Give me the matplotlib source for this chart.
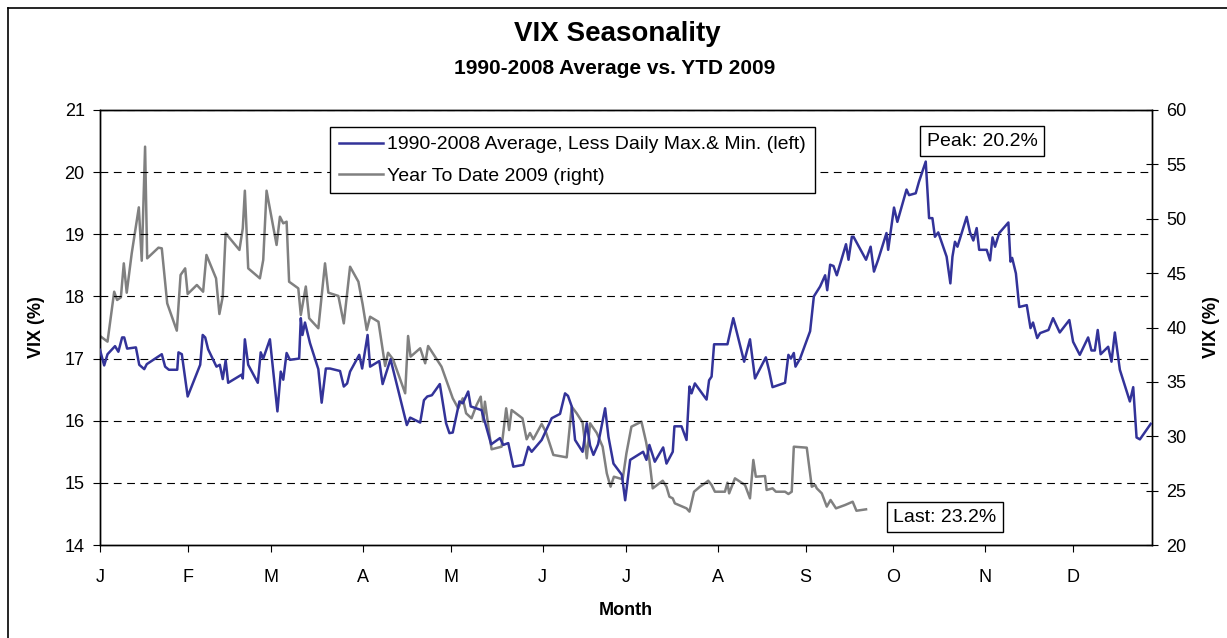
import matplotlib
matplotlib.use("Agg")
import matplotlib.pyplot as plt
from matplotlib.lines import Line2D

plt.rcParams['font.family'] = ['Liberation Sans', 'DejaVu Sans']

# ---- data (x = trading-day index within the year) ----
month_labels = ['J', 'F', 'M', 'A', 'M', 'J', 'J', 'A', 'S', 'O', 'N', 'D']
month_start_day = [0, 21, 41, 63, 84, 106, 126, 148, 169, 190, 212, 233]
year_end_day = 252

avg_day = [0, 1.0, 1.8, 3.6, 4.4, 5.3, 5.8, 6.5, 8.6, 9.4, 10.6, 11.2, 14.8, 15.6, 16.5, 18.5, 18.8, 19.6,
           21.0, 24.0, 24.6, 25.2, 25.9, 27.9, 28.7, 29.4, 30.1, 30.7, 33.9, 34.2, 34.7, 35.5, 37.8, 38.5,
           39.1, 40.7, 42.5, 43.3, 43.9, 44.7, 45.5, 47.7, 48.1, 48.5, 49.1, 50.3, 52.3, 53.1, 54.1, 55.1,
           57.5, 58.4, 59.2, 59.9, 62.1, 62.8, 64.1, 64.7, 66.9, 67.7, 69.6, 73.5, 74.3, 76.7, 77.6, 78.4,
           79.5, 81.4, 82.9, 83.7, 84.5, 86.1, 86.9, 88.2, 88.8, 91.4, 93.7, 95.8, 96.6, 97.8, 99.0, 101.4,
           102.6, 103.4, 105.8, 108.2, 110.2, 111.4, 112.1, 113.0, 113.8, 115.6, 116.6, 117.4, 118.2,
           119.3, 121.0, 121.8, 123.0, 125.0, 125.8, 127.0, 130.1, 130.9, 131.6, 132.9, 134.9, 135.7,
           137.2, 137.6, 139.3, 140.5, 141.2, 141.7, 142.5, 145.3, 145.9, 146.5, 147.1, 150.3, 151.7,
           154.3, 155.7, 156.9, 159.5, 160.3, 161.1, 164.1, 164.9, 165.5, 166.2, 166.6, 167.7, 170.1,
           171.0, 172.5, 173.7, 174.2, 174.9, 175.7, 176.5, 178.7, 179.3, 180.1, 180.5, 183.5, 184.6,
           185.4, 186.4, 188.4, 188.8, 190.2, 191.0, 193.2, 193.8, 195.4, 196.2, 197.8, 198.6, 199.4,
           200.0, 200.8, 202.8, 203.7, 204.2, 204.8, 205.4, 207.6, 208.4, 209.2, 210.0, 210.6, 212.4,
           213.2, 213.8, 214.4, 215.4, 217.6, 218.1, 218.5, 219.4, 220.2, 222.0, 222.9, 223.5, 224.5,
           225.2, 227.2, 228.3, 229.9, 232.2, 233.1, 234.7, 236.7, 237.5, 238.3, 239.0, 239.7, 241.5,
           242.3, 243.1, 244.3, 246.7, 247.5, 248.3, 249.1, 251.7]
avg_vix = [17.14, 16.89, 17.07, 17.20, 17.11, 17.34, 17.34, 17.16, 17.18, 16.90, 16.83, 16.91, 17.07, 16.87,
           16.82, 16.82, 17.10, 17.07, 16.39, 16.90, 17.38, 17.34, 17.15, 16.87, 16.90, 16.67, 16.97, 16.61,
           16.74, 16.68, 17.31, 16.90, 16.61, 17.10, 17.00, 17.31, 16.15, 16.79, 16.66, 17.09, 16.98, 17.00,
           17.65, 17.38, 17.58, 17.25, 16.83, 16.29, 16.84, 16.84, 16.80, 16.55, 16.60, 16.79, 17.06, 16.84,
           17.38, 16.87, 16.96, 16.59, 16.99, 15.93, 16.05, 15.97, 16.33, 16.39, 16.41, 16.59, 15.96, 15.80,
           15.81, 16.31, 16.28, 16.47, 16.23, 16.17, 15.62, 15.72, 15.61, 15.64, 15.26, 15.29, 15.58, 15.50,
           15.69, 16.04, 16.11, 16.44, 16.40, 16.23, 15.69, 15.50, 15.96, 15.60, 15.45, 15.62, 16.20, 15.74,
           15.31, 15.13, 14.72, 15.37, 15.50, 15.37, 15.61, 15.34, 15.57, 15.31, 15.50, 15.91, 15.91, 15.69,
           16.55, 16.44, 16.60, 16.34, 16.65, 16.71, 17.23, 17.23, 17.65, 16.95, 17.31, 16.68, 17.02, 16.80,
           16.54, 16.61, 17.06, 17.00, 17.09, 16.87, 17.00, 17.44, 18.00, 18.16, 18.34, 18.10, 18.51, 18.49,
           18.34, 18.84, 18.59, 18.96, 18.96, 18.59, 18.80, 18.40, 18.59, 19.02, 18.75, 19.43, 19.20, 19.72,
           19.63, 19.66, 19.85, 20.17, 19.26, 19.26, 18.96, 19.03, 18.64, 18.21, 18.64, 18.88, 18.80, 19.28,
           19.03, 18.90, 19.10, 18.75, 18.75, 18.58, 18.95, 18.80, 19.02, 19.19, 18.56, 18.62, 18.37, 17.83,
           17.86, 17.49, 17.58, 17.33, 17.41, 17.46, 17.65, 17.42, 17.62, 17.27, 17.06, 17.34, 17.13, 17.13,
           17.46, 17.07, 17.19, 16.95, 17.42, 16.82, 16.31, 16.54, 15.73, 15.70, 15.95]

ytd_day = [0, 1.8, 3.4, 4.1, 5.0, 5.7, 6.4, 7.6, 9.3, 10.0, 10.8, 11.3, 14.0, 14.8, 16.1, 18.4, 19.3, 20.4,
           21.0, 23.2, 24.7, 25.5, 27.8, 28.6, 29.4, 30.1, 33.4, 34.2, 34.7, 35.5, 38.3, 39.1, 39.9, 42.3,
           43.1, 43.9, 44.7, 45.3, 47.5, 48.1, 49.3, 50.1, 52.3, 53.9, 54.7, 57.1, 58.4, 59.9, 61.9, 62.9,
           63.9, 64.7, 66.7, 68.3, 69.0, 70.2, 73.1, 73.8, 74.4, 76.7, 77.9, 78.6, 81.8, 84.5, 85.8, 86.9,
           87.7, 89.0, 90.2, 91.2, 91.8, 92.2, 93.8, 96.2, 97.3, 98.0, 98.6, 101.2, 102.2, 103.0, 103.8,
           105.8, 106.8, 108.6, 111.8, 113.0, 114.2, 115.6, 116.6, 117.4, 119.0, 120.4, 121.4, 122.3, 123.1,
           125.2, 126.1, 127.3, 129.7, 130.8, 131.6, 132.4, 134.8, 135.7, 136.4, 137.2, 137.7, 140.5, 141.2,
           142.3, 143.7, 144.9, 145.7, 146.5, 147.3, 149.7, 150.3, 150.7, 152.1, 153.3, 154.5, 155.7, 156.5,
           157.1, 159.3, 159.7, 161.1, 161.9, 164.1, 164.9, 165.7, 166.2, 169.3, 170.5, 171.3, 171.7, 172.9,
           174.1, 175.0, 176.3, 178.5, 180.3, 181.2, 183.5]
ytd_vix = [39.22, 38.70, 43.29, 42.53, 42.77, 45.90, 43.20, 46.82, 51.05, 46.14, 56.63, 46.36, 47.34, 47.28,
           42.22, 39.71, 44.83, 45.44, 43.08, 43.91, 43.29, 46.67, 44.52, 41.24, 42.83, 48.66, 47.13, 49.12,
           52.58, 45.44, 44.52, 46.21, 52.58, 47.59, 50.19, 49.58, 49.73, 44.21, 43.60, 41.15, 43.77, 40.85,
           39.93, 45.90, 43.20, 42.90, 40.38, 45.59, 44.21, 42.16, 39.77, 40.99, 40.53, 36.46, 37.68, 37.07,
           33.95, 39.22, 37.32, 38.09, 36.71, 38.30, 36.40, 33.49, 32.57, 33.49, 32.11, 31.65, 32.87, 33.64,
           31.34, 33.18, 28.80, 29.04, 32.57, 30.57, 32.41, 31.65, 29.72, 30.30, 29.72, 31.13, 30.40, 28.28,
           28.06, 32.72, 32.10, 31.26, 27.97, 31.19, 30.30, 29.04, 26.59, 25.36, 26.28, 26.04, 28.43, 30.88,
           31.34, 29.50, 27.82, 25.21, 25.91, 25.36, 24.44, 24.29, 23.83, 23.37, 23.07, 24.90, 25.36, 25.67,
           25.91, 25.52, 24.90, 24.90, 25.73, 24.75, 26.13, 25.82, 25.52, 24.29, 27.82, 26.28, 26.34, 25.06,
           25.21, 24.90, 24.90, 24.69, 24.90, 29.04, 28.95, 25.36, 25.52, 25.21, 24.75, 23.53, 24.14, 23.37,
           23.68, 23.98, 23.15, 23.28]

left_ticks = [14, 15, 16, 17, 18, 19, 20, 21]
right_ticks = [20, 25, 30, 35, 40, 45, 50, 55, 60]
series_names = ['1990-2008 Average, Less Daily Max.& Min. (left)', 'Year To Date 2009 (right)']
peak_text = 'Peak: 20.2%'
last_text = 'Last: 23.2%'

BLUE = '#333399'
GRAY = '#808080'

fig = plt.figure(figsize=(12.27, 6.38), dpi=100)
W, H = 1227, 638
ax = fig.add_axes([100 / W, 1 - 545 / H, 1052 / W, 435 / H])
ax2 = ax.twinx()

# figure frame (left/top border)
fig.add_artist(Line2D([8 / W, 8 / W], [0, 1 - 8 / H], transform=fig.transFigure, color='black', lw=1.2))
fig.add_artist(Line2D([8 / W, 1], [1 - 8 / H, 1 - 8 / H], transform=fig.transFigure, color='black', lw=1.2))

ax.set_xlim(0, year_end_day)
ax.set_ylim(14, 21)
ax2.set_ylim(20, 60)

for v in left_ticks[1:]:
    ax.axhline(v, color='black', lw=0.8, dashes=(7, 5), zorder=1)

l1, = ax.plot(avg_day, avg_vix, color=BLUE, lw=1.8, zorder=3)
l2, = ax2.plot(ytd_day, ytd_vix, color=GRAY, lw=1.8, zorder=2)
ax.set_zorder(ax2.get_zorder() + 1)
ax.patch.set_visible(False)

ax.set_xticks(month_start_day)
ax.set_xticklabels(month_labels)
ax.set_yticks(left_ticks)
ax2.set_yticks(right_ticks)

for a in (ax, ax2):
    for s in a.spines.values():
        s.set_color('black')
        s.set_linewidth(1.0)
ax.tick_params(axis='x', direction='out', length=5, width=0.8, labelsize=13, pad=12, colors='black')
ax.tick_params(axis='y', direction='out', length=5, width=0.8, labelsize=13, pad=6)
ax2.tick_params(axis='y', direction='inout', length=9, width=0.8, labelsize=13, pad=6)

ax.set_ylabel('VIX (%)', fontsize=13, fontweight='bold', labelpad=14)
ax2.set_ylabel('VIX (%)', fontsize=13, fontweight='bold', labelpad=12)
ax.set_xlabel('Month', fontsize=13, fontweight='bold', labelpad=12)

fig.text(617 / W, 1 - 34 / H, 'VIX Seasonality', ha='center', va='center', fontsize=20, fontweight='bold')
fig.text(615 / W, 1 - 68 / H, '1990-2008 Average vs. YTD 2009', ha='center', va='center',
         fontsize=15, fontweight='bold')

leg = ax.legend([l1, l2], series_names, loc='upper left',
                bbox_to_anchor=((330 - 100) / 1052, 1 - (127 - 110) / 435),
                fontsize=14, frameon=True, fancybox=False, shadow=False, framealpha=1,
                edgecolor='black', handlelength=2.3, handletextpad=0.2, borderpad=0.45,
                labelspacing=0.7, borderaxespad=0)
leg.get_frame().set_linewidth(1.0)

box = dict(boxstyle='square,pad=0.35', facecolor='white', edgecolor='black', lw=1.0)
ax.text((982 - 100) / 1052, 1 - (141 - 110) / 435, peak_text, transform=ax.transAxes,
        ha='center', va='center', fontsize=14, bbox=box, zorder=5)
ax.text((945 - 100) / 1052, 1 - (517 - 110) / 435, last_text, transform=ax.transAxes,
        ha='center', va='center', fontsize=14, bbox=box, zorder=5)

fig.savefig('out.png', dpi=100)
